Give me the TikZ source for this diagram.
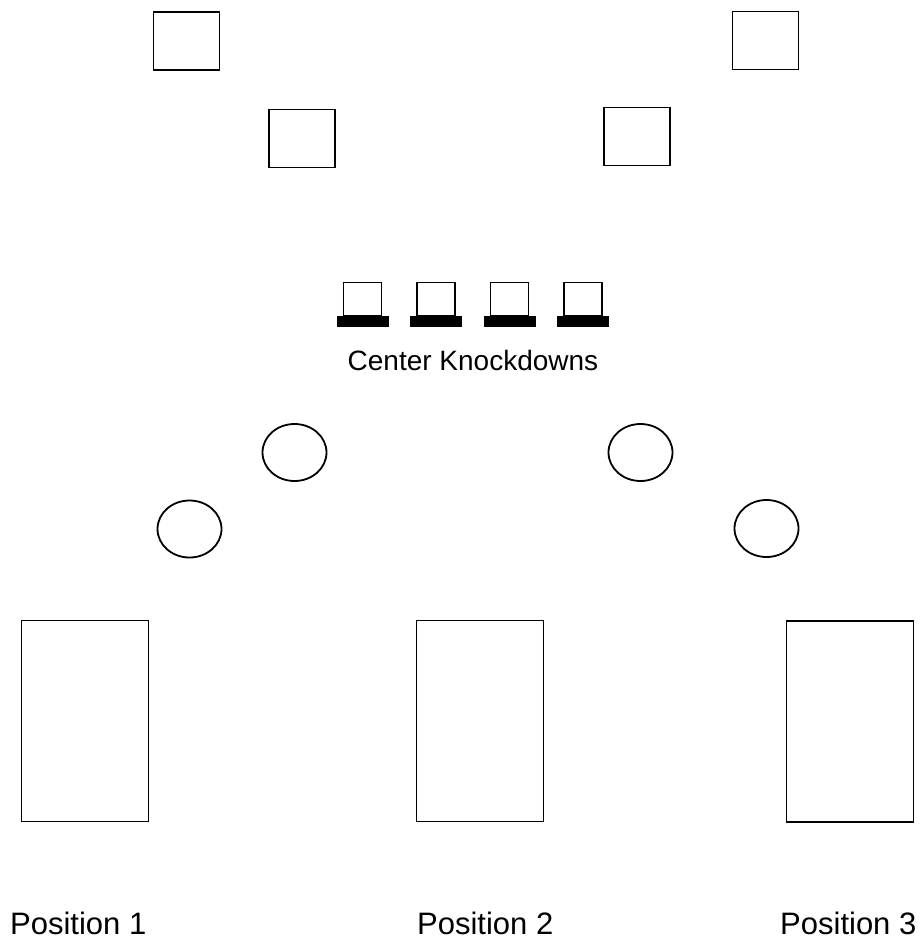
\documentclass[tikz,border=0pt]{standalone}
\usepackage{fontspec}
\setmainfont{Liberation Sans}
\usetikzlibrary{shapes.geometric}
\tikzset{
  cone/.style={draw, line width=1.8pt, minimum width=66pt, minimum height=58pt, inner sep=0pt},
  ring/.style={draw, ellipse, line width=1.8pt, minimum width=64pt, minimum height=57pt, inner sep=0pt},
  station/.style={draw, line width=1.8pt, minimum width=127pt, minimum height=201pt, inner sep=0pt},
  postext/.style={anchor=base west, inner sep=0pt, font=\fontsize{31}{37}\selectfont},
  kdtext/.style={anchor=base, inner sep=0pt, font=\fontsize{28}{34}\selectfont}
}
\begin{document}
\begin{tikzpicture}[x=1pt,y=-1pt,line join=miter]
 % fix the page size
 \useasboundingbox (0,0) rectangle (923,951);

 % draw the square cones
 \node[cone] (coneA) at (186.5,41) {};
 \node[cone] (coneB) at (302,138.5) {};
 \node[cone] (coneC) at (637,136.5) {};
 \node[cone] (coneD) at (765.5,40.5) {};

 % draw the knockdowns
 \foreach \x in {362.5,436,509.5,583} {
         % upright part
         \draw[line width=1.8pt] (\x-19,316) rectangle (\x+19,282.5);
         % black base
         \fill[black] (\x-26,316) rectangle (\x+26,327);
 }
 \node[kdtext] (kd) at (473,370) {Center Knockdowns};

 % draw the round cones
 \node[ring] (ringA) at (294.5,452.5) {};
 \node[ring] (ringB) at (189.5,529) {};
 \node[ring] (ringC) at (640.5,452.5) {};
 \node[ring] (ringD) at (766.5,528.5) {};

 % draw the positions
 \node[station] (posA) at (85,721) {};
 \node[station] (posB) at (480,721) {};
 \node[station] (posC) at (850,721.5) {};

 \node[postext] (txtA) at (10,934)  {Position 1};
 \node[postext] (txtB) at (417,934) {Position 2};
 \node[postext] (txtC) at (780,934) {Position 3};
\end{tikzpicture}
\end{document}
